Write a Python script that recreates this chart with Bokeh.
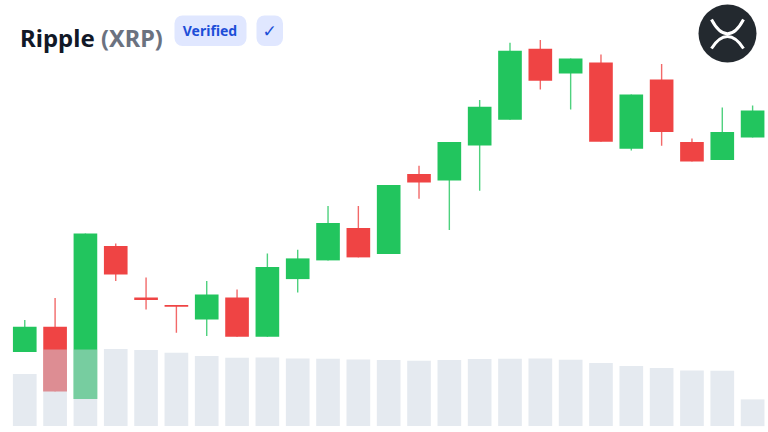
from bokeh.plotting import figure
from bokeh.models import Range1d, ColumnDataSource
from bokeh.core.properties import value
from bokeh.embed import file_html
from bokeh.resources import INLINE

opens  = [80, 105.3, 33, 186, 134.7, 127, 112.7, 134.7, 95.3, 153, 171.7, 204, 178, 258, 251.5, 286.7, 312.3, 383.3, 358.7, 369.7, 283.3, 352.7, 290, 272, 294.7]
closes = [105.3, 40.7, 198.7, 157.7, 132, 125.3, 137.7, 95.3, 165, 173.7, 209, 174.7, 247, 249.7, 290, 325.3, 381.3, 351.3, 373.7, 290.3, 337.7, 300, 270.7, 300, 321.7]
highs  = [112, 134, 198.7, 188.7, 154.7, 127, 151, 142.7, 178.7, 182.3, 226, 226, 247, 266.3, 290, 332, 389.3, 392, 373.7, 377.7, 337.7, 368, 293.7, 324.7, 326.7]
lows   = [80, 40.7, 33, 151, 122.7, 99.3, 96, 95.3, 95.3, 139.7, 171.7, 174.7, 178, 233.3, 202, 241.3, 312.3, 342.7, 322.7, 290.3, 281.7, 286.3, 270.7, 272, 294.7]
volumes = [52, 76.7, 76.7, 77, 76, 73.3, 70, 68.3, 68.7, 67.7, 67.3, 66.7, 66, 65.3, 66, 67, 67.3, 67.7, 66.3, 63, 60, 58, 55.7, 55.3, 26.7]

GREEN, RED = "#22c55e", "#ef4444"
idx = list(range(len(opens)))
colors = [GREEN if c >= o else RED for o, c in zip(opens, closes)]
src = ColumnDataSource(dict(
    x=idx, o=opens, c=closes, h=highs, l=lows, v=volumes, color=colors,
    bottom=[min(a, b) for a, b in zip(opens, closes)],
    top=[max(a, b) for a, b in zip(opens, closes)],
))

p = figure(width=768, height=432, output_backend="svg", toolbar_location=None,
           x_range=Range1d(-0.80, 24.524), y_range=Range1d(-0.4, 431.6),
           min_border=0, outline_line_color=None, background_fill_color="white",
           border_fill_color="white")
p.axis.visible = False
p.grid.visible = False
p.extra_y_ranges["vol"] = Range1d(-6.4, 425.6)
p.extra_x_ranges["px"] = Range1d(0, 768)
p.extra_y_ranges["px"] = Range1d(432, 0)

p.segment("x", "h", "x", "l", source=src, line_color="color", line_width=1.4, line_alpha=0.8)
p.vbar("x", 0.78, "top", "bottom", source=src, fill_color="color", line_color=None)
p.vbar("x", 0.78, "v", 0, source=src, y_range_name="vol",
       fill_color="#cbd5e1", fill_alpha=0.5, line_color=None)

# header
px = dict(x_range_name="px", y_range_name="px")
p.text([19.5], [37], ["Ripple"], text_font=value("Noto Sans"), text_font_size="24px",
       text_font_style="bold", text_color="#111827", text_baseline="alphabetic", **px)
p.text([100.5], [37], ["(XRP)"], text_font=value("Noto Sans"), text_font_size="23.5px",
       text_font_style="bold", text_color="#6b7280", text_baseline="alphabetic", **px)
p.quad(left=[174, 256], right=[246, 282.5], top=[15, 15], bottom=[45.5, 45.5],
       fill_color="#e0e7ff", line_color=None, border_radius=8, **px)
p.text([209.5], [30], ["Verified"], text_font=value("Noto Sans"), text_font_size="14px",
       text_font_style="bold", text_color="#1d4ed8", text_align="center", text_baseline="middle", **px)
p.text([269], [30], ["✓"], text_font=value("DejaVu Sans"), text_font_size="17px",
       text_color="#1d4ed8", text_align="center", text_baseline="middle", **px)

# logo
p.scatter([727], [33], size=58, marker="circle", fill_color="#23292f", line_color=None, **px)
p.bezier(x0=[711, 711], y0=[19, 48], x1=[743, 743], y1=[19, 48],
         cx0=[721, 721], cy0=[38, 32], cx1=[733, 733], cy1=[38, 32],
         line_color="white", line_width=3, **px)

open("out.html", "w").write(file_html(p, INLINE))
